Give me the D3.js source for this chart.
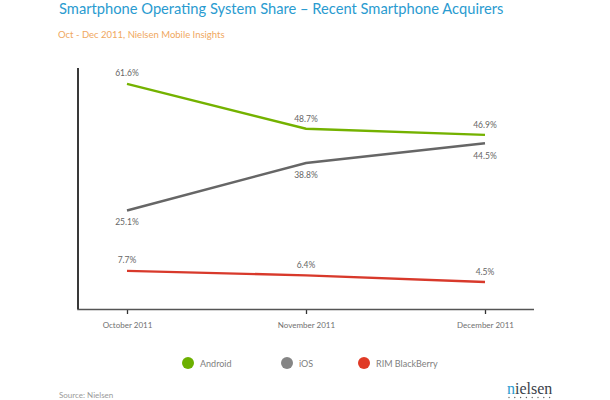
<!DOCTYPE html>
<html>
<head>
<meta charset="utf-8">
<script src="https://cdn.jsdelivr.net/npm/d3@7"></script>
<style>
  html, body { margin: 0; padding: 0; background: #fff; }
  svg { display: block; }
  text { font-family: Lato, "Open Sans", sans-serif; }
</style>
</head>
<body>
<div id="chart"></div>
<script>
// values
var months = ["October 2011", "November 2011", "December 2011"];
var seriesNames = ["Android", "iOS", "RIM BlackBerry"];
var android = [61.6, 48.7, 46.9];
var ios = [25.1, 38.8, 44.5];
var blackberry = [7.7, 6.4, 4.5];

var width = 610;
var height = 400;

var svg = d3.select("#chart")
  .append("svg")
  .attr("width", width)
  .attr("height", height);

var xScale = d3.scalePoint().domain(months).range([127, 485]);
var yScale = d3.scaleLinear().domain([-3.3, 66.2]).range([309, 68]);

// the three lines, label offset is up (-) or down (+) from the point
var lineData = [
  { name: seriesNames[0], values: android, color: "#6cb000", line: "#74b200", offsets: [-8, -7, -7] },
  { name: seriesNames[1], values: ios, color: "#858585", line: "#666666", offsets: [14, 15, 16] },
  { name: seriesNames[2], values: blackberry, color: "#e03a26", line: "#d8392b", offsets: [-8, -7, -7] }
];

var line = d3.line()
  .x(function(d, i) { return xScale(months[i]); })
  .y(function(d) { return yScale(d); });

// axes
var xAxis = d3.axisBottom(xScale).tickSize(5).tickPadding(8);
var gx = svg.append("g")
  .attr("transform", "translate(0,309)")
  .call(xAxis);
gx.select(".domain").remove();
gx.selectAll("line").attr("stroke", "#333").attr("stroke-width", 1.3);
gx.selectAll("text")
  .attr("fill", "#707070")
  .style("font-size", "8px")
  .style("font-family", "Lato, 'Open Sans', sans-serif");

svg.append("path")
  .attr("d", "M78,68V309.5H534")
  .attr("fill", "none")
  .attr("stroke", "#555")
  .attr("stroke-width", 1.6);
svg.append("line")
  .attr("x1", 78).attr("x2", 78).attr("y1", 68).attr("y2", 309)
  .attr("stroke", "#333")
  .attr("stroke-width", 1.8);

lineData.forEach(function(s) {
  svg.append("path")
    .datum(s.values)
    .attr("d", line)
    .attr("fill", "none")
    .attr("stroke", s.line)
    .attr("stroke-width", 2.4);

  svg.append("g")
    .selectAll("text")
    .data(s.values)
    .enter()
    .append("text")
    .attr("x", function(d, i) { return xScale(months[i]); })
    .attr("y", function(d, i) { return yScale(d) + s.offsets[i]; })
    .attr("text-anchor", "middle")
    .attr("fill", "#666")
    .style("font-size", "8.5px")
    .text(function(d) { return d.toFixed(1) + "%"; });
});

// legend
var legendX = [188, 287, 364];
var legend = svg.selectAll("g.legend")
  .data(lineData)
  .enter()
  .append("g")
  .attr("class", "legend")
  .attr("transform", function(d, i) { return "translate(" + legendX[i] + ",363)"; });
legend.append("circle")
  .attr("r", 6)
  .attr("fill", function(d) { return d.color; });
legend.append("text")
  .attr("x", 12)
  .attr("y", 3.5)
  .attr("fill", "#808080")
  .style("font-size", "9px")
  .text(function(d) { return d.name; });

// title block
svg.append("text")
  .attr("x", 59).attr("y", 14)
  .attr("fill", "#2a9bd0")
  .style("font-size", "14.7px")
  .text("Smartphone Operating System Share – Recent Smartphone Acquirers");
svg.append("text")
  .attr("x", 58).attr("y", 38)
  .attr("fill", "#f0a860")
  .style("font-size", "9.5px")
  .text("Oct - Dec 2011, Nielsen Mobile Insights");
svg.append("text")
  .attr("x", 59).attr("y", 398)
  .attr("fill", "#999")
  .style("font-size", "8px")
  .text("Source: Nielsen");

// logo
var logo = svg.append("text")
  .attr("x", 507).attr("y", 394)
  .style("font-family", "'Liberation Serif', serif")
  .style("font-size", "16px")
  .attr("fill", "#3a3f4a");
logo.append("tspan").attr("fill", "#2a9bd0").text("n");
logo.append("tspan").text("ielsen");
svg.append("g")
  .selectAll("circle")
  .data(d3.range(8))
  .enter()
  .append("circle")
  .attr("cx", function(d) { return 509 + d * 5.8; })
  .attr("cy", 397.5)
  .attr("r", 0.7)
  .attr("fill", "#666");
</script>
</body>
</html>
